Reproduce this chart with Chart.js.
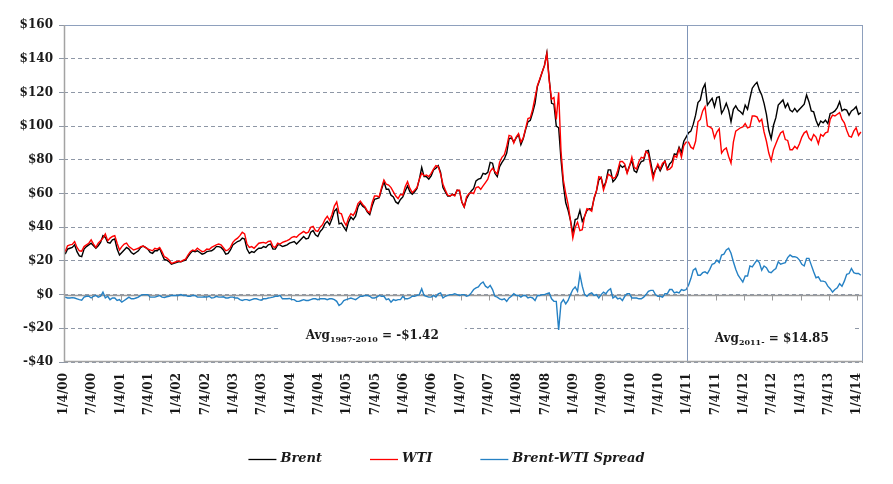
<!DOCTYPE html>
<html>
<head>
<meta charset="utf-8">
<script src="https://cdn.jsdelivr.net/npm/chart.js@4.4.1/dist/chart.umd.min.js"></script>
<style>
  html, body { margin: 0; padding: 0; background: #fff; }
</style>
</head>
<body>
<canvas id="oilChart" width="893" height="484"></canvas>
<script>
// semi-monthly readings, Jan 2000 .. Jan 2014 (two per month)
const brent = [
  24.0,27.0, 27.5,28.0, 29.5,25.5, 23.0,22.5, 27.0,28.5, 29.5,30.5, 29.0,27.5, 29.0,31.0, 35.0,34.0, 31.0,30.5, 32.5,33.0, 27.0,23.5,
  25.0,26.5, 28.0,27.0, 25.0,24.0, 25.0,26.0, 28.0,28.8, 28.0,27.0, 25.0,24.5, 26.0,26.0, 27.5,24.0, 20.8,20.5, 19.5,18.0, 18.5,19.0,
  19.5,19.5, 20.0,20.5, 22.5,24.5, 26.0,25.5, 26.0,25.0, 24.0,24.5, 25.5,25.8, 26.0,27.0, 28.5,28.5, 28.0,26.5, 24.0,24.5, 26.5,29.5,
  30.5,31.5, 32.0,33.5, 33.0,27.0, 24.5,25.5, 25.0,26.5, 27.5,27.5, 28.5,28.0, 29.5,30.0, 27.0,27.0, 29.5,29.5, 28.5,29.0, 29.5,30.5,
  31.0,31.5, 30.0,31.5, 33.0,34.5, 33.0,33.5, 37.0,38.0, 35.5,34.5, 37.5,39.0, 42.0,43.5, 41.5,45.0, 49.5,51.0, 42.0,42.5, 40.0,38.0,
  43.0,46.0, 44.5,46.5, 52.0,54.5, 52.5,51.5, 49.0,47.5, 52.5,56.5, 57.0,57.5, 62.5,67.0, 62.5,62.5, 59.0,58.0, 55.0,54.0, 56.5,58.0,
  61.5,64.5, 61.0,59.5, 61.0,63.0, 68.5,75.5, 70.0,70.0, 68.5,70.5, 74.0,75.0, 76.5,72.5, 63.5,61.0, 58.5,58.5, 59.5,59.0, 62.0,61.5,
  55.0,52.0, 57.0,59.5, 61.5,63.0, 67.5,68.5, 69.0,72.0, 71.5,72.5, 78.5,78.0, 72.0,70.0, 76.0,78.5, 80.5,84.0, 92.5,93.0, 90.5,93.0,
  95.0,89.0, 92.5,98.0, 102.5,103.5, 108.0,113.5, 123.5,127.5, 132.0,136.0, 143.5,128.0, 113.5,113.0, 100.0,99.0, 80.0,65.0, 54.5,50.0, 44.0,36.5,
  44.5,45.0, 50.0,43.5, 46.5,50.0, 51.0,50.5, 57.0,61.5, 68.0,69.5, 63.5,67.0, 74.0,74.0, 67.0,68.5, 71.0,77.0, 75.5,76.5, 72.5,76.5,
  79.5,73.5, 72.5,76.5, 79.0,79.5, 85.0,85.5, 78.5,71.0, 74.0,76.5, 73.5,76.5, 79.5,74.5, 77.5,79.0, 83.5,83.0, 87.5,84.5, 91.0,93.5,
  96.0,97.0, 101.0,106.5, 114.0,115.5, 122.0,125.0, 112.5,114.5, 116.5,111.5, 117.0,117.5, 107.5,110.0, 113.5,109.5, 102.5,110.0, 112.0,109.5, 108.5,107.0,
  112.5,110.0, 116.5,122.5, 124.5,126.0, 121.5,118.5, 113.5,107.0, 97.5,92.5, 100.5,105.0, 112.5,114.0, 115.5,111.0, 113.5,109.5, 108.5,110.5, 108.5,110.0,
  111.5,113.0, 118.5,114.5, 109.0,108.5, 103.5,100.0, 103.0,102.0, 103.5,101.5, 107.5,108.0, 109.0,111.0, 114.5,109.0, 110.0,109.5, 106.5,109.0, 110.0,111.5,
  107.0,108.0
];

const wti = [
  25.5,29.0, 29.5,29.8, 31.5,28.0, 26.0,25.8, 28.5,29.5, 30.5,32.5, 30.0,28.0, 30.5,32.0, 33.5,36.0, 32.0,33.5, 34.5,35.0, 30.5,26.5,
  28.5,30.0, 30.5,28.5, 27.5,26.5, 27.0,27.5, 28.5,28.8, 28.0,27.0, 26.5,26.0, 27.5,27.0, 28.0,25.5, 22.5,21.8, 20.5,18.5, 19.0,19.5,
  20.0,19.5, 20.5,21.0, 23.5,25.5, 26.5,26.0, 27.5,26.5, 25.5,25.8, 27.0,26.8, 28.0,28.8, 29.5,30.0, 29.5,27.8, 26.0,26.5, 28.0,31.0,
  32.5,33.5, 35.0,37.0, 36.0,30.0, 28.0,28.5, 27.5,29.0, 30.5,30.8, 31.0,30.5, 31.5,31.8, 28.5,28.0, 30.5,30.0, 31.0,31.5, 32.0,32.8,
  34.0,34.5, 34.0,35.5, 36.5,37.5, 36.5,37.0, 40.0,40.5, 38.0,37.5, 40.0,41.5, 44.5,46.5, 44.0,47.5, 52.5,55.0, 48.5,48.0, 43.5,41.0,
  45.5,48.0, 47.0,49.5, 54.0,55.5, 53.5,52.0, 49.5,48.5, 54.5,58.5, 58.5,58.0, 63.5,68.0, 65.5,65.0, 63.5,61.0, 58.5,57.0, 59.5,59.0,
  64.0,67.0, 63.0,60.5, 62.0,63.5, 68.5,72.0, 70.5,71.0, 70.0,72.0, 74.5,76.5, 76.0,71.5, 65.5,62.0, 59.0,58.5, 59.5,58.5, 62.0,62.0,
  55.0,52.0, 58.0,60.0, 60.5,60.0, 63.5,64.0, 62.5,64.5, 66.5,68.5, 73.0,75.0, 73.0,71.5, 78.5,81.5, 83.0,88.0, 94.5,94.0, 90.0,93.5,
  95.5,90.5, 93.0,98.5, 104.5,105.0, 110.0,117.0, 124.0,128.0, 132.0,136.0, 143.0,127.0, 116.0,117.0, 104.0,120.0, 85.0,68.0, 60.0,53.5, 44.0,33.5,
  40.0,43.0, 38.0,38.5, 46.5,51.0, 50.5,49.5, 57.5,61.5, 70.0,69.5, 62.0,66.5, 71.5,70.5, 69.0,69.5, 73.5,79.0, 79.0,77.5, 72.0,76.0,
  81.5,75.5, 74.5,79.0, 81.5,81.0, 85.0,83.5, 76.0,68.5, 74.0,77.5, 74.5,78.0, 79.0,74.0, 74.5,76.0, 82.5,81.5, 86.5,81.5, 88.5,90.5,
  90.5,87.5, 86.5,91.0, 102.5,104.0, 109.0,111.5, 100.0,99.5, 98.5,93.0, 96.5,98.5, 84.0,86.0, 87.0,82.0, 78.0,90.5, 97.0,98.0, 99.0,99.5,
  101.5,99.0, 99.5,106.0, 106.0,105.5, 102.5,104.0, 96.5,91.0, 84.0,79.5, 86.0,89.5, 93.0,96.0, 97.0,92.0, 91.5,86.0, 86.0,88.0, 86.5,89.5,
  93.5,96.0, 97.0,93.0, 91.5,95.0, 93.5,89.5, 95.0,94.0, 96.0,96.5, 104.0,106.5, 106.0,107.0, 108.0,104.0, 102.0,97.5, 94.0,93.5, 97.0,99.0,
  94.5,96.5
];

const spread = [
  -1.5,-2.0, -2.0,-1.8, -2.0,-2.5, -3.0,-3.3, -1.5,-1.0, -1.0,-2.0, -1.0,-0.5, -1.5,-1.0, 1.5,-2.0, -1.0,-3.0, -2.0,-2.0, -3.5,-3.0,
  -4.5,-3.5, -2.5,-1.5, -2.5,-2.5, -2.0,-1.5, -0.5,0.0, 0.0,0.0, -1.5,-1.5, -1.5,-1.0, -0.5,-1.5, -1.7,-1.3, -1.0,-0.5, -0.5,-0.5,
  -0.5,0.0, -0.5,-0.5, -1.0,-1.0, -0.5,-0.5, -1.5,-1.5, -1.5,-1.3, -1.5,-1.0, -2.0,-1.8, -1.0,-1.5, -1.5,-1.3, -2.0,-2.0, -1.5,-1.5,
  -2.0,-2.0, -3.0,-3.5, -3.0,-3.0, -3.5,-3.0, -2.5,-2.5, -3.0,-3.3, -2.5,-2.5, -2.0,-1.8, -1.5,-1.0, -1.0,-0.5, -2.5,-2.5, -2.5,-2.3,
  -3.0,-3.0, -4.0,-4.0, -3.5,-3.0, -3.5,-3.5, -3.0,-2.5, -2.5,-3.0, -2.5,-2.5, -2.5,-3.0, -2.5,-2.5, -3.0,-4.0, -6.5,-5.5, -3.5,-3.0,
  -2.5,-2.0, -2.5,-3.0, -2.0,-1.0, -1.0,-0.5, -0.5,-1.0, -2.0,-2.0, -1.5,-0.5, -1.0,-1.0, -3.0,-2.5, -4.5,-3.0, -3.5,-3.0, -3.0,-1.0,
  -2.5,-2.5, -2.0,-1.0, -1.0,-0.5, 0.0,3.5, -0.5,-1.0, -1.5,-1.5, -0.5,-1.5, 0.5,1.0, -2.0,-1.0, -0.5,0.0, 0.0,0.5, 0.0,-0.5,
  0.0,0.0, -1.0,-0.5, 1.0,3.0, 4.0,4.5, 6.5,7.5, 5.0,4.0, 5.5,3.0, -1.0,-1.5, -2.5,-3.0, -2.5,-4.0, -2.0,-1.0, 0.5,-0.5,
  -0.5,-1.5, -0.5,-0.5, -2.0,-1.5, -2.0,-3.5, -0.5,-0.5, 0.0,0.0, 0.5,1.0, -2.5,-4.0, -4.0,-21.0, -5.0,-3.0, -5.5,-3.5, 0.0,3.0,
  4.5,2.0, 12.0,5.0, 0.0,-1.0, 0.5,1.0, -0.5,0.0, -2.0,0.0, 1.5,0.5, 2.5,3.5, -2.0,-1.0, -2.5,-2.0, -3.5,-1.0, 0.5,0.5,
  -2.0,-2.0, -2.0,-2.5, -2.5,-1.5, 0.0,2.0, 2.5,2.5, 0.0,-1.0, -1.0,-1.5, 0.5,0.5, 3.0,3.0, 1.0,1.5, 1.0,3.0, 2.5,3.0,
  5.5,9.5, 14.5,15.5, 11.5,11.5, 13.0,13.5, 12.5,15.0, 18.0,18.5, 20.5,19.0, 23.5,24.0, 26.5,27.5, 24.5,19.5, 15.0,11.5, 9.5,7.5,
  11.0,11.0, 17.0,16.5, 18.5,20.5, 19.0,14.5, 17.0,16.0, 13.5,13.0, 14.5,15.5, 19.5,18.0, 18.5,19.0, 22.0,23.5, 22.5,22.5, 22.0,20.5,
  18.0,17.0, 21.5,21.5, 17.5,13.5, 10.0,10.5, 8.0,8.0, 7.5,5.0, 3.5,1.5, 3.0,4.0, 6.5,5.0, 8.0,12.0, 12.5,15.5, 13.0,12.5,
  12.5,11.5
];

const tickLabels = [
  '1/4/00','7/4/00','1/4/01','7/4/01','1/4/02','7/4/02','1/4/03','7/4/03','1/4/04','7/4/04',
  '1/4/05','7/4/05','1/4/06','7/4/06','1/4/07','7/4/07','1/4/08','7/4/08','1/4/09','7/4/09',
  '1/4/10','7/4/10','1/4/11','7/4/11','1/4/12','7/4/12','1/4/13','7/4/13','1/4/14'
];

const seriesNames = ['Brent', 'WTI', 'Brent-WTI Spread'];
const splitYear = 2011;
const notes = [
  { x: 2005.44, y: -23.5, head: 'Avg', sub: '1987-2010', tail: ' = -$1.42' },
  { x: 2012.49, y: -25, head: 'Avg', sub: '2011-', tail: ' = $14.85' }
];

const SERIF = '"DejaVu Serif", "Liberation Serif", serif';
const toPoints = arr => arr.map((v, i) => ({ x: 2000 + (i + 0.5) / 24, y: v }));

const framePlugin = {
  id: 'frame',
  beforeDatasetsDraw(chart) {
    const { ctx, chartArea: a, scales: { x, y } } = chart;
    ctx.save();
    // solid zero line with small category ticks under it
    const y0 = Math.round(y.getPixelForValue(0)) + 0.5;
    ctx.strokeStyle = '#9a9a9a';
    ctx.lineWidth = 1.5;
    ctx.beginPath();
    ctx.moveTo(a.left, y0);
    ctx.lineTo(a.right, y0);
    ctx.stroke();
    ctx.lineWidth = 1;
    ctx.beginPath();
    x.ticks.forEach(t => {
      const px = Math.round(x.getPixelForValue(t.value)) + 0.5;
      ctx.moveTo(px, y0);
      ctx.lineTo(px, y0 + 5);
    });
    ctx.stroke();
    ctx.restore();
  },
  afterDatasetsDraw(chart) {
    const { ctx, chartArea: a, scales: { x, y } } = chart;
    ctx.save();
    // average notes on white boxes
    notes.forEach(n => {
      const mainFont = 'bold 12px ' + SERIF;
      const subFont = 'bold 8px ' + SERIF;
      ctx.font = mainFont;
      const w1 = ctx.measureText(n.head).width;
      const w3 = ctx.measureText(n.tail).width;
      ctx.font = subFont;
      const w2 = ctx.measureText(n.sub).width;
      const total = w1 + w2 + w3;
      const cx = x.getPixelForValue(n.x);
      const cy = y.getPixelForValue(n.y);
      ctx.fillStyle = '#fff';
      ctx.fillRect(cx - total / 2 - 26, cy - 15, total + 52, 30);
      let tx = cx - total / 2;
      ctx.fillStyle = '#1a1a1a';
      ctx.textBaseline = 'alphabetic';
      ctx.textAlign = 'left';
      ctx.font = mainFont;
      ctx.fillText(n.head, tx, cy + 5);
      tx += w1;
      ctx.font = subFont;
      ctx.fillText(n.sub, tx, cy + 8);
      tx += w2;
      ctx.font = mainFont;
      ctx.fillText(n.tail, tx, cy + 5);
    });
    // 2011 divider
    const xs = Math.round(x.getPixelForValue(splitYear)) + 0.5;
    ctx.strokeStyle = '#7f95b8';
    ctx.lineWidth = 1;
    ctx.beginPath();
    ctx.moveTo(xs, a.top);
    ctx.lineTo(xs, a.bottom);
    ctx.stroke();
    // plot frame
    ctx.strokeStyle = '#8ea0bd';
    ctx.beginPath();
    ctx.moveTo(a.left, a.top + 0.5);
    ctx.lineTo(a.right - 0.5, a.top + 0.5);
    ctx.lineTo(a.right - 0.5, a.bottom - 0.5);
    ctx.stroke();
    ctx.strokeStyle = '#a3a3a3';
    ctx.lineWidth = 1.5;
    ctx.beginPath();
    ctx.moveTo(a.left + 0.5, a.top);
    ctx.lineTo(a.left + 0.5, a.bottom - 0.5);
    ctx.lineTo(a.right, a.bottom - 0.5);
    ctx.stroke();
    ctx.restore();
  },
  afterDraw(chart) {
    // legend along the bottom
    const { ctx } = chart;
    const ds = chart.data.datasets;
    ctx.save();
    ctx.font = 'italic bold 13px ' + SERIF;
    const lineW = 28, gap = 4, itemGap = 48;
    const widths = ds.map(d => lineW + gap + ctx.measureText(d.label).width);
    const total = widths.reduce((s, w) => s + w, 0) + itemGap * (ds.length - 1);
    let lx = chart.width / 2 - total / 2;
    const ly = 459;
    ds.forEach((d, i) => {
      ctx.strokeStyle = d.borderColor;
      ctx.lineWidth = 1.3;
      ctx.beginPath();
      ctx.moveTo(lx, ly + 0.5);
      ctx.lineTo(lx + lineW, ly + 0.5);
      ctx.stroke();
      ctx.fillStyle = '#1a1a1a';
      ctx.textBaseline = 'middle';
      ctx.fillText(d.label, lx + lineW + gap, ly);
      lx += widths[i] + itemGap;
    });
    ctx.restore();
  }
};

new Chart(document.getElementById('oilChart'), {
  type: 'line',
  data: {
    datasets: [
      { label: seriesNames[0], data: toPoints(brent), borderColor: '#000000', order: 2 },
      { label: seriesNames[1], data: toPoints(wti), borderColor: '#ff0000', order: 1 },
      { label: seriesNames[2], data: toPoints(spread), borderColor: '#2581c4', order: 0 }
    ]
  },
  options: {
    responsive: false,
    animation: false,
    devicePixelRatio: 1,
    layout: { padding: { top: 25, right: 30, bottom: 0, left: 0 } },
    elements: {
      point: { radius: 0 },
      line: { borderWidth: 1.4, tension: 0, fill: false }
    },
    plugins: {
      legend: { display: false },
      tooltip: { enabled: false }
    },
    scales: {
      x: {
        type: 'linear',
        min: 2000,
        max: 2014.1,
        afterBuildTicks: s => { s.ticks = tickLabels.map((l, i) => ({ value: 2000 + i * 0.5 })); },
        afterFit: s => { s.height = 122; },
        grid: { display: false, drawTicks: false },
        border: { display: false },
        ticks: {
          autoSkip: false,
          minRotation: 90,
          maxRotation: 90,
          padding: 11,
          color: '#1a1a1a',
          font: { family: SERIF, size: 12, weight: 'bold' },
          callback: v => tickLabels[Math.round((v - 2000) * 2)] || ''
        }
      },
      y: {
        min: -40,
        max: 160,
        afterFit: s => { s.width = 64; },
        grid: { color: '#8e97a6', tickLength: 5, lineWidth: 1 },
        border: { display: false, dash: [4, 3] },
        ticks: {
          stepSize: 20,
          padding: 6,
          color: '#1a1a1a',
          font: { family: SERIF, size: 12, weight: 'bold' },
          callback: v => (v < 0 ? '-$' + (-v) : '$' + v)
        }
      }
    }
  },
  plugins: [framePlugin]
});
</script>
</body>
</html>
